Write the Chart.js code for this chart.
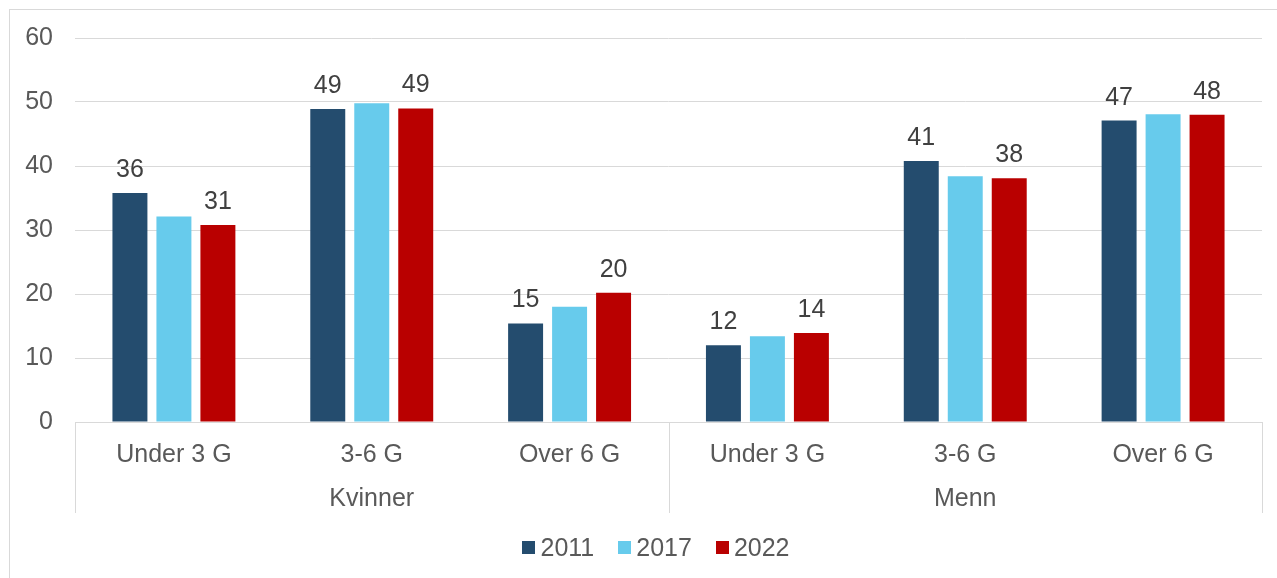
<!DOCTYPE html>
<html>
<head>
<meta charset="utf-8">
<script src="https://cdn.jsdelivr.net/npm/chart.js@4.4.1/dist/chart.umd.min.js"></script>
<style>
    body { margin: 0; background: #fff; overflow: hidden; }
    #frame { position: absolute; left: 9px; top: 9px; width: 1400px; height: 700px; border: 1px solid #d9d9d9; }
    #chart { position: absolute; left: 0; top: 0; }
    #legend { position: absolute; left: 0; top: 532px; width: 1312px; display: flex; justify-content: center;
              font: 25px "Liberation Sans", Arial, sans-serif; color: #595959; line-height: 30px; }
    .item { display: flex; align-items: center; margin-left: 24px; }
    .item:first-child { margin-left: 0; }
    .box { width: 13px; height: 13px; margin-right: 5px; }
</style>
</head>
<body>
<div id="frame"></div>
<canvas id="chart" width="1277" height="578"></canvas>
<div id="legend"></div>
<script>
// Données
const categories = ["Under 3 G", "3-6 G", "Over 6 G", "Under 3 G", "3-6 G", "Over 6 G"];
const groups = ["Kvinner", "Menn"];
const seriesNames = ["2011", "2017", "2022"];
const values2011 = [35.8, 48.9, 15.4, 12.0, 40.8, 47.1];
const values2017 = [32.1, 49.8, 18.0, 13.4, 38.4, 48.1];
const values2022 = [30.8, 49.0, 20.2, 13.9, 38.1, 48.0];
const labelledSeries = ["2011", "2022"];
const yTicks = [0, 10, 20, 30, 40, 50, 60];

const colors = ["#244C6E", "#67CBEC", "#B90000"];
const font = "Liberation Sans, Arial, sans-serif";

// Etiquettes de groupe + séparateurs sous l'axe
const groupPlugin = {
    id: "groups",
    afterDraw(chart) {
        let x = chart.scales.x;
        let ctx = chart.ctx;
        let per = categories.length / groups.length;
        let half = (x.getPixelForValue(1) - x.getPixelForValue(0)) / 2;
        ctx.save();
        ctx.strokeStyle = "#d9d9d9";
        ctx.lineWidth = 1;
        for (let i = 0; i <= categories.length; i += per) {
            let px = Math.round(x.getPixelForValue(i) - half) + 0.5;
            ctx.beginPath();
            ctx.moveTo(px, x.top);
            ctx.lineTo(px, x.top + 91);
            ctx.stroke();
        }
        ctx.fillStyle = "#595959";
        ctx.font = "25px " + font;
        ctx.textAlign = "center";
        ctx.textBaseline = "middle";
        groups.forEach((g, i) => {
            let cx = (x.getPixelForValue(i * per) + x.getPixelForValue(i * per + per - 1)) / 2;
            ctx.fillText(g, cx, x.top + 77);
        });
        ctx.restore();
    }
};

// Valeurs au-dessus des barres
const valuePlugin = {
    id: "values",
    afterDatasetsDraw(chart) {
        let ctx = chart.ctx;
        ctx.save();
        ctx.fillStyle = "#404040";
        ctx.font = "25px " + font;
        ctx.textAlign = "center";
        ctx.textBaseline = "alphabetic";
        chart.data.datasets.forEach((ds, i) => {
            if (!labelledSeries.includes(ds.label)) return;
            chart.getDatasetMeta(i).data.forEach((bar, j) => {
                ctx.fillText(Math.round(ds.data[j]), bar.x, bar.y - 16);
            });
        });
        ctx.restore();
    }
};

let chart = new Chart(document.getElementById("chart"), {
    type: "bar",
    data: {
        labels: categories,
        datasets: [values2011, values2017, values2022].map((d, i) => ({
            label: seriesNames[i],
            data: d,
            backgroundColor: colors[i],
            categoryPercentage: 0.667,
            barPercentage: 0.795
        }))
    },
    options: {
        responsive: false,
        animation: false,
        layout: { padding: { top: 38, right: 15, bottom: 65, left: 0 } },
        plugins: {
            legend: { display: false },
            tooltip: { enabled: false }
        },
        scales: {
            x: {
                grid: { display: false },
                border: { display: true, color: "#d9d9d9" },
                ticks: { color: "#595959", font: { family: font, size: 25 }, padding: 10, maxRotation: 0 },
                afterFit: s => { s.height = 91; }
            },
            y: {
                min: 0,
                max: 60,
                afterBuildTicks: s => { s.ticks = yTicks.map(v => ({ value: v })); },
                grid: { color: "#d9d9d9", drawTicks: false },
                border: { display: false },
                ticks: { color: "#595959", font: { family: font, size: 25 }, padding: 22 },
                afterFit: s => { s.width = 75; }
            }
        }
    },
    plugins: [groupPlugin, valuePlugin]
});

// Légende HTML
let legend = document.getElementById("legend");
chart.data.datasets.forEach(ds => {
    let item = document.createElement("div");
    item.className = "item";
    item.innerHTML = `<span class="box" style="background:${ds.backgroundColor}"></span><span>${ds.label}</span>`;
    legend.appendChild(item);
});
</script>
</body>
</html>
